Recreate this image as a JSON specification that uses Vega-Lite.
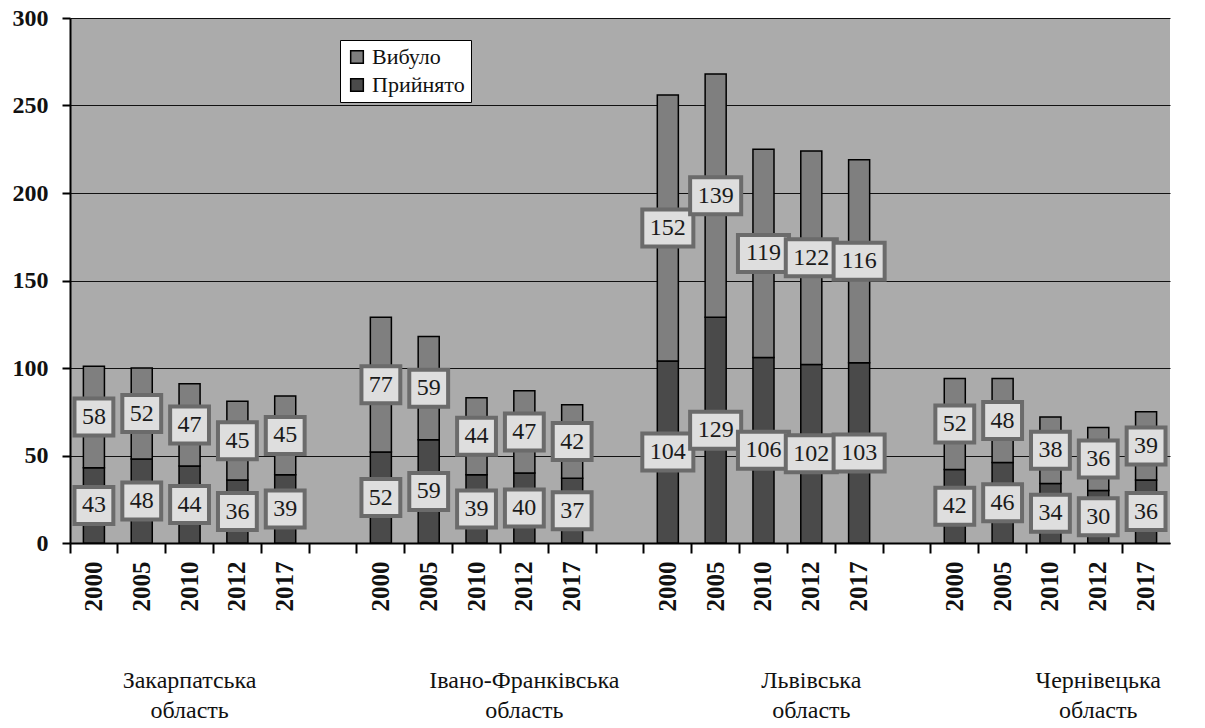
{
  "$schema": "https://vega.github.io/schema/vega-lite/v6.json",
  "width": 1100,
  "height": 525,
  "autosize": "none",
  "padding": {"left": 70, "top": 18, "right": 35, "bottom": 185},
  "background": "white",
  "config": {"view": {"fill": "#ababab", "stroke": null}, "font": "Liberation Serif"},
  "data": {"values": [
    {"key": "Z-2000", "type": "Прийнято", "value": 43}, {"key": "Z-2000", "type": "Вибуло", "value": 58},
    {"key": "Z-2005", "type": "Прийнято", "value": 48}, {"key": "Z-2005", "type": "Вибуло", "value": 52},
    {"key": "Z-2010", "type": "Прийнято", "value": 44}, {"key": "Z-2010", "type": "Вибуло", "value": 47},
    {"key": "Z-2012", "type": "Прийнято", "value": 36}, {"key": "Z-2012", "type": "Вибуло", "value": 45},
    {"key": "Z-2017", "type": "Прийнято", "value": 39}, {"key": "Z-2017", "type": "Вибуло", "value": 45},
    {"key": "I-2000", "type": "Прийнято", "value": 52}, {"key": "I-2000", "type": "Вибуло", "value": 77},
    {"key": "I-2005", "type": "Прийнято", "value": 59}, {"key": "I-2005", "type": "Вибуло", "value": 59},
    {"key": "I-2010", "type": "Прийнято", "value": 39}, {"key": "I-2010", "type": "Вибуло", "value": 44},
    {"key": "I-2012", "type": "Прийнято", "value": 40}, {"key": "I-2012", "type": "Вибуло", "value": 47},
    {"key": "I-2017", "type": "Прийнято", "value": 37}, {"key": "I-2017", "type": "Вибуло", "value": 42},
    {"key": "L-2000", "type": "Прийнято", "value": 104}, {"key": "L-2000", "type": "Вибуло", "value": 152},
    {"key": "L-2005", "type": "Прийнято", "value": 129}, {"key": "L-2005", "type": "Вибуло", "value": 139},
    {"key": "L-2010", "type": "Прийнято", "value": 106}, {"key": "L-2010", "type": "Вибуло", "value": 119},
    {"key": "L-2012", "type": "Прийнято", "value": 102}, {"key": "L-2012", "type": "Вибуло", "value": 122},
    {"key": "L-2017", "type": "Прийнято", "value": 103}, {"key": "L-2017", "type": "Вибуло", "value": 116},
    {"key": "C-2000", "type": "Прийнято", "value": 42}, {"key": "C-2000", "type": "Вибуло", "value": 52},
    {"key": "C-2005", "type": "Прийнято", "value": 46}, {"key": "C-2005", "type": "Вибуло", "value": 48},
    {"key": "C-2010", "type": "Прийнято", "value": 34}, {"key": "C-2010", "type": "Вибуло", "value": 38},
    {"key": "C-2012", "type": "Прийнято", "value": 30}, {"key": "C-2012", "type": "Вибуло", "value": 36},
    {"key": "C-2017", "type": "Прийнято", "value": 36}, {"key": "C-2017", "type": "Вибуло", "value": 39}
  ]},
  "layer": [
    {
      "mark": {"type": "bar", "stroke": "#000", "strokeWidth": 1.5},
      "encoding": {
        "x": {
          "field": "key", "type": "nominal",
          "scale": {
            "domain": ["Z-2000", "Z-2005", "Z-2010", "Z-2012", "Z-2017", "g1",
                       "I-2000", "I-2005", "I-2010", "I-2012", "I-2017", "g2",
                       "L-2000", "L-2005", "L-2010", "L-2012", "L-2017", "g3",
                       "C-2000", "C-2005", "C-2010", "C-2012", "C-2017"],
            "paddingInner": 0.56, "paddingOuter": 0.28
          },
          "axis": {
            "title": null, "labelExpr": "slice(datum.value, 2)", "labelAngle": 270,
            "labelFontSize": 25, "labelFontWeight": "bold", "labelColor": "#111",
            "labelOverlap": false, "bandPosition": -0.636, "labelOffset": 0,
            "tickSize": 10, "tickWidth": 2, "tickColor": "#000",
            "domainColor": "#000", "domainWidth": 2, "labelPadding": 8, "grid": false
          }
        },
        "y": {
          "field": "value", "type": "quantitative",
          "scale": {"domain": [0, 300], "nice": false},
          "axis": {
            "title": null, "values": [0, 50, 100, 150, 200, 250, 300],
            "grid": true, "gridColor": "#111", "gridWidth": 1,
            "tickSize": 8, "tickWidth": 2, "tickColor": "#000",
            "domainColor": "#000", "domainWidth": 2,
            "labelFontSize": 24, "labelFontWeight": "bold",
            "labelPadding": 14, "labelColor": "#111"
          }
        },
        "color": {
          "field": "type", "type": "nominal",
          "scale": {"domain": ["Вибуло", "Прийнято"], "range": ["#7f7f7f", "#4a4a4a"]},
          "legend": {
            "title": null, "orient": "none", "legendX": 270, "legendY": 22,
            "fillColor": "white", "strokeColor": "#000", "padding": 6,
            "labelFontSize": 22, "labelColor": "#111",
            "symbolType": "square", "symbolSize": 160, "rowPadding": 6
          }
        }
      }
    },
    {
      "transform": [
        {"stack": "value", "groupby": ["key"], "sort": [{"field": "type", "order": "descending"}], "as": ["v0", "v1"]},
        {"calculate": "(datum.v0 + datum.v1) / 2", "as": "mid"}
      ],
      "layer": [
        {
          "mark": {"type": "point", "filled": true, "fill": "#dedede", "stroke": "#6b6b6b", "strokeWidth": 4, "opacity": 1, "size": 1369},
          "encoding": {
            "x": {"field": "key", "type": "nominal"},
            "y": {"field": "mid", "type": "quantitative"},
            "shape": {
              "condition": {"test": "datum.value >= 100", "value": "M-1.38,-1L1.38,-1L1.38,1L-1.38,1Z"},
              "value": "M-1.05,-1L1.05,-1L1.05,1L-1.05,1Z"
            }
          }
        },
        {
          "mark": {"type": "text", "fontSize": 24, "color": "#1a1a1a", "baseline": "middle", "align": "center"},
          "encoding": {
            "x": {"field": "key", "type": "nominal"},
            "y": {"field": "mid", "type": "quantitative"},
            "text": {"field": "value", "type": "quantitative"}
          }
        }
      ]
    },
    {
      "data": {"values": [
        {"key": "Z-2010", "region": "Закарпатська\nобласть"},
        {"key": "I-2012", "region": "Івано-Франківська\nобласть"},
        {"key": "L-2012", "region": "Львівська\nобласть"},
        {"key": "C-2012", "region": "Чернівецька\nобласть"}
      ]},
      "mark": {"type": "text", "fontSize": 24, "color": "#111", "baseline": "top", "align": "center", "lineBreak": "\n", "lineHeight": 30},
      "encoding": {
        "x": {"field": "key", "type": "nominal"},
        "y": {"datum": -72, "type": "quantitative"},
        "text": {"field": "region", "type": "nominal"}
      }
    }
  ]
}
